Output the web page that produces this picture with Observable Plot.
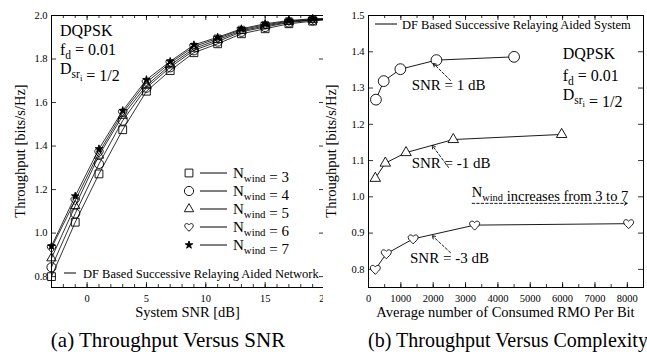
<!DOCTYPE html>
<html><head><meta charset="utf-8">
<script src="https://cdn.jsdelivr.net/npm/d3@7"></script>
<script src="https://cdn.jsdelivr.net/npm/@observablehq/plot@0.6"></script>
<style>
body{margin:0;background:#fff;}
#wrap{position:relative;width:647px;height:358px;font-family:'Liberation Serif','Times New Roman',Times,serif;color:#000;overflow:hidden;}
#a,#b{position:absolute;top:0;}
#a{left:0px;}#b{left:323px;}
.cap{position:absolute;top:328px;font-size:20.5px;line-height:24px;white-space:nowrap;text-align:center;width:400px;}
</style></head>
<body><div id="wrap"><div id="a"></div><div id="b"></div>
<div class="cap" id="capA" style="left:-32px;font-size:21px;">(a) Throughput Versus SNR</div>
<div class="cap" id="capB" style="left:308px;font-size:20px;">(b) Throughput Versus Complexity</div>
</div>
<script>
const FONT = "'Liberation Serif', 'Times New Roman', Times, serif";

// ---------- Panel (a) data ----------
const snrA = [-3, -1, 1, 3, 5, 7, 9, 11, 13, 15, 17, 19];
const thrW3 = [0.800, 1.050, 1.272, 1.475, 1.652, 1.747, 1.829, 1.870, 1.916, 1.939, 1.962, 1.974];
const thrW4 = [0.843, 1.090, 1.318, 1.517, 1.668, 1.762, 1.840, 1.880, 1.925, 1.947, 1.968, 1.978];
const thrW5 = [0.885, 1.125, 1.357, 1.540, 1.678, 1.772, 1.848, 1.888, 1.930, 1.952, 1.971, 1.980];
const thrW6 = [0.932, 1.150, 1.370, 1.553, 1.692, 1.782, 1.857, 1.895, 1.935, 1.957, 1.974, 1.982];
const thrW7 = [0.940, 1.170, 1.387, 1.563, 1.705, 1.789, 1.865, 1.900, 1.939, 1.962, 1.977, 1.985];
const snrEnd = 20;
const thrEnd = [1.980, 1.982, 1.983, 1.984, 1.986];
const windowSizes = [3, 4, 5, 6, 7];
const xTicksA = [0, 5, 10, 15, 20];
const yTicksA = [0.8, 1.0, 1.2, 1.4, 1.6, 1.8, 2.0];

// ---------- Panel (b) data ----------
const rmoSnr1 = [230, 470, 985, 2100, 4500];
const thrSnr1 = [1.268, 1.319, 1.352, 1.377, 1.386];
const rmoSnrM1 = [210, 520, 1160, 2620, 5970];
const thrSnrM1 = [1.051, 1.093, 1.122, 1.158, 1.172];
const rmoSnrM3 = [210, 550, 1380, 3280, 8040];
const thrSnrM3 = [0.800, 0.843, 0.884, 0.922, 0.926];
const xTicksB = [0, 1000, 2000, 3000, 4000, 5000, 6000, 7000, 8000];
const yTicksB = [0.8, 0.9, 1.0, 1.1, 1.2, 1.3, 1.4, 1.5];
// annotation arrows (data coords): [x1,y1,x2,y2]
const arrowsB = [
  [2535, 1.321, 2000, 1.368],
  [2473, 1.081, 1969, 1.142],
  [2535, 0.846, 1969, 0.893],
  [3205, 0.982, 8000, 0.982]
];

// heart symbol
const heart = {
  draw(ctx, size) {
    const r = Math.sqrt(size / Math.PI);
    ctx.moveTo(0, r);
    ctx.bezierCurveTo(-0.3*r, 0.6*r, -r, 0.2*r, -r, -0.3*r);
    ctx.bezierCurveTo(-r, -0.8*r, -0.4*r, -1.0*r, 0, -0.5*r);
    ctx.bezierCurveTo(0.4*r, -1.0*r, r, -0.8*r, r, -0.3*r);
    ctx.bezierCurveTo(r, 0.2*r, 0.3*r, 0.6*r, 0, r);
    ctx.closePath();
  }
};

function rich(svg, x, y, parts, size, opts = {}) {
  const t = d3.select(svg).append("text")
    .attr("x", x).attr("y", y)
    .attr("font-size", size).attr("font-family", FONT)
    .attr("fill", "black").attr("text-anchor", opts.anchor || "start")
    .style("white-space", "pre");
  if (opts.rotate) t.attr("transform", `rotate(${opts.rotate},${x},${y})`);
  const off = [0, 0.28, 0.46], sc = [1, 0.72, 0.55];
  let cur = 0;
  for (const p of parts) {
    const [txt, lvl = 0] = Array.isArray(p) ? p : [p, 0];
    const target = off[lvl] * size;
    t.append("tspan").attr("dy", target - cur).attr("font-size", size * sc[lvl]).text(txt);
    cur = target;
  }
  return t;
}
function sym(svg, type, x, y, r, fill) {
  d3.select(svg).append("path")
    .attr("d", d3.symbol(type, r * r * Math.PI)())
    .attr("transform", `translate(${x},${y})`)
    .attr("fill", fill).attr("stroke", "black").attr("stroke-width", 0.9);
}
function hline(svg, x1, x2, y) {
  d3.select(svg).append("line").attr("x1", x1).attr("x2", x2).attr("y1", y).attr("y2", y)
    .attr("stroke", "black").attr("stroke-width", 1);
}

// ---------- Build panel (a) ----------
const seriesA = [thrW3, thrW4, thrW5, thrW6, thrW7];
const rowsA = [];
windowSizes.forEach((w, i) => {
  snrA.forEach((s, j) => rowsA.push({w, snr: s, thr: seriesA[i][j], marker: true}));
  rowsA.push({w, snr: snrEnd, thr: thrEnd[i], marker: false});
});
const symA = ["square", "circle", "triangle", heart, "star"];
const symA3 = [d3.symbolSquare, d3.symbolCircle, d3.symbolTriangle, heart, d3.symbolStar];
const rA = [4.4, 4.6, 3.5, 4.3, 2.4];

const WA = 330, HA = 325, mLA = 51, mRA = 6, mTA = 15, mBA = 38;
const FWA = WA - mLA - mRA, FHA = HA - mTA - mBA;
const minorA = d3.range(-2, 20, 1);

const plotA = Plot.plot({
  width: WA, height: HA,
  marginLeft: mLA, marginRight: mRA, marginTop: mTA, marginBottom: mBA,
  style: {fontFamily: FONT, fontSize: "10.5px", background: "white", color: "black", overflow: "visible"},
  x: {domain: [-3, 20]},
  y: {domain: [0.75, 2.0]},
  marks: [
    Plot.axisX({ticks: xTicksA, tickSize: 0, tickPadding: 7, label: null, fontSize: 10.5}),
    Plot.axisY({ticks: yTicksA, tickSize: 0, tickPadding: 4, tickFormat: ".1f", label: null, fontSize: 10.5}),
    Plot.tickX(minorA, {x: d => d, insetTop: FHA - 3, stroke: "black", strokeWidth: 0.8}),
    Plot.tickX(minorA, {x: d => d, insetBottom: FHA - 3, stroke: "black", strokeWidth: 0.8}),
    Plot.tickX(xTicksA, {x: d => d, insetTop: FHA - 5, stroke: "black", strokeWidth: 0.8}),
    Plot.tickX(xTicksA, {x: d => d, insetBottom: FHA - 5, stroke: "black", strokeWidth: 0.8}),
    Plot.tickY(yTicksA, {y: d => d, insetRight: FWA - 5, stroke: "black", strokeWidth: 0.8}),
    Plot.tickY(yTicksA, {y: d => d, insetLeft: FWA - 5, stroke: "black", strokeWidth: 0.8}),
    Plot.line(rowsA, {x: "snr", y: "thr", z: "w", stroke: "black", strokeWidth: 0.8}),
    ...windowSizes.map((w, i) => Plot.dot(rowsA.filter(d => d.w === w && d.marker), {
      x: "snr", y: "thr", symbol: symA[i], r: rA[i], stroke: "black",
      fill: i === 4 ? "black" : "none", strokeWidth: 0.9
    })),
    Plot.frame({stroke: "black", strokeWidth: 1})
  ]
});
document.getElementById("a").appendChild(plotA);

// annotations (a)
rich(plotA, 60, 36, ["DQPSK"], 16);
rich(plotA, 60, 54.5, ["f", ["d", 1], " = 0.01"], 16);
rich(plotA, 60, 74, ["D", ["sr", 1], ["i", 2], ["", 0], " = 1/2"], 16);
rich(plotA, (mLA + WA - mRA) / 2, 316.5, ["System SNR [dB]"], 14.5, {anchor: "middle"});
rich(plotA, 25, mTA + FHA / 2, ["Throughput [bits/s/Hz]"], 14.5, {anchor: "middle", rotate: -90});
// legend (a)
const legY = [173, 191, 209, 227, 245];
windowSizes.forEach((w, i) => {
  sym(plotA, symA3[i], 189, legY[i], rA[i], i === 4 ? "black" : "white");
  hline(plotA, 200, 227, legY[i]);
  rich(plotA, 233, legY[i] + 5, ["N", ["wind", 1], ["", 0], " = " + w], 15);
});
hline(plotA, 64, 76, 273);
rich(plotA, 83, 277.5, ["DF Based Successive Relaying Aided Network"], 12.5);

// ---------- Build panel (b) ----------
const rowsB = [];
[[rmoSnr1, thrSnr1, "1"], [rmoSnrM1, thrSnrM1, "-1"], [rmoSnrM3, thrSnrM3, "-3"]].forEach(([xs, ys, s]) =>
  xs.forEach((x, j) => rowsB.push({snr: s, rmo: x, thr: ys[j]})));
const symB = {"1": ["circle", 5.4], "-1": ["triangle", 3.9], "-3": [heart, 5.0]};

const WB = 324, HB = 325, mLB = 45, mRB = 4, mTB = 15, mBB = 38;
const FWB = WB - mLB - mRB, FHB = HB - mTB - mBB;
const minorB = d3.range(500, 8500, 500);

const plotB = Plot.plot({
  width: WB, height: HB,
  marginLeft: mLB, marginRight: mRB, marginTop: mTB, marginBottom: mBB,
  style: {fontFamily: FONT, fontSize: "10.5px", background: "white", color: "black", overflow: "visible"},
  x: {domain: [0, 8500]},
  y: {domain: [0.75, 1.5]},
  marks: [
    Plot.axisX({ticks: xTicksB, tickSize: 0, tickPadding: 7, label: null, fontSize: 10.5, tickFormat: d => String(d)}),
    Plot.axisY({ticks: yTicksB, tickSize: 0, tickPadding: 4, tickFormat: ".1f", label: null, fontSize: 10.5}),
    Plot.tickX(minorB, {x: d => d, insetTop: FHB - 3, stroke: "black", strokeWidth: 0.8}),
    Plot.tickX(minorB, {x: d => d, insetBottom: FHB - 3, stroke: "black", strokeWidth: 0.8}),
    Plot.tickX(xTicksB, {x: d => d, insetTop: FHB - 5, stroke: "black", strokeWidth: 0.8}),
    Plot.tickX(xTicksB, {x: d => d, insetBottom: FHB - 5, stroke: "black", strokeWidth: 0.8}),
    Plot.tickY(yTicksB, {y: d => d, insetRight: FWB - 5, stroke: "black", strokeWidth: 0.8}),
    Plot.tickY(yTicksB, {y: d => d, insetLeft: FWB - 5, stroke: "black", strokeWidth: 0.8}),
    Plot.line(rowsB, {x: "rmo", y: "thr", z: "snr", stroke: "black", strokeWidth: 0.9}),
    ...Object.keys(symB).map(s => Plot.dot(rowsB.filter(d => d.snr === s), {
      x: "rmo", y: "thr", symbol: symB[s][0], r: symB[s][1], stroke: "black", fill: "white", strokeWidth: 0.9
    })),
    Plot.arrow(arrowsB, {x1: d => d[0], y1: d => d[1], x2: d => d[2], y2: d => d[3],
      stroke: "black", strokeWidth: 0.9, strokeDasharray: "2.5,2", headLength: 6}),
    Plot.frame({stroke: "black", strokeWidth: 1})
  ]
});
document.getElementById("b").appendChild(plotB);

// annotations (b)
rich(plotB, 239.7, 59, ["DQPSK"], 16);
rich(plotB, 239.7, 81, ["f", ["d", 1], " = 0.01"], 16);
rich(plotB, 239.7, 100, ["D", ["sr", 1], ["i", 2], ["", 0], " = 1/2"], 16);
rich(plotB, 88.7, 90, ["SNR = 1 dB"], 15);
rich(plotB, 88.7, 168, ["SNR = -1 dB"], 15);
rich(plotB, 87, 263.3, ["SNR = -3 dB"], 15);
rich(plotB, 148.7, 196.7, ["N", ["wind", 1], ["", 0], " increases from 3 to 7"], 14.5);
hline(plotB, 52, 74, 24);
rich(plotB, 79, 28.5, ["DF Based Successive Relaying Aided System"], 12.5);
rich(plotB, (mLB + WB - mRB) / 2, 316.5, ["Average number of Consumed RMO Per Bit"], 14.5, {anchor: "middle"});
rich(plotB, 13, mTB + FHB / 2, ["Throughput [bits/s/Hz]"], 14.5, {anchor: "middle", rotate: -90});
</script>
</body></html>
